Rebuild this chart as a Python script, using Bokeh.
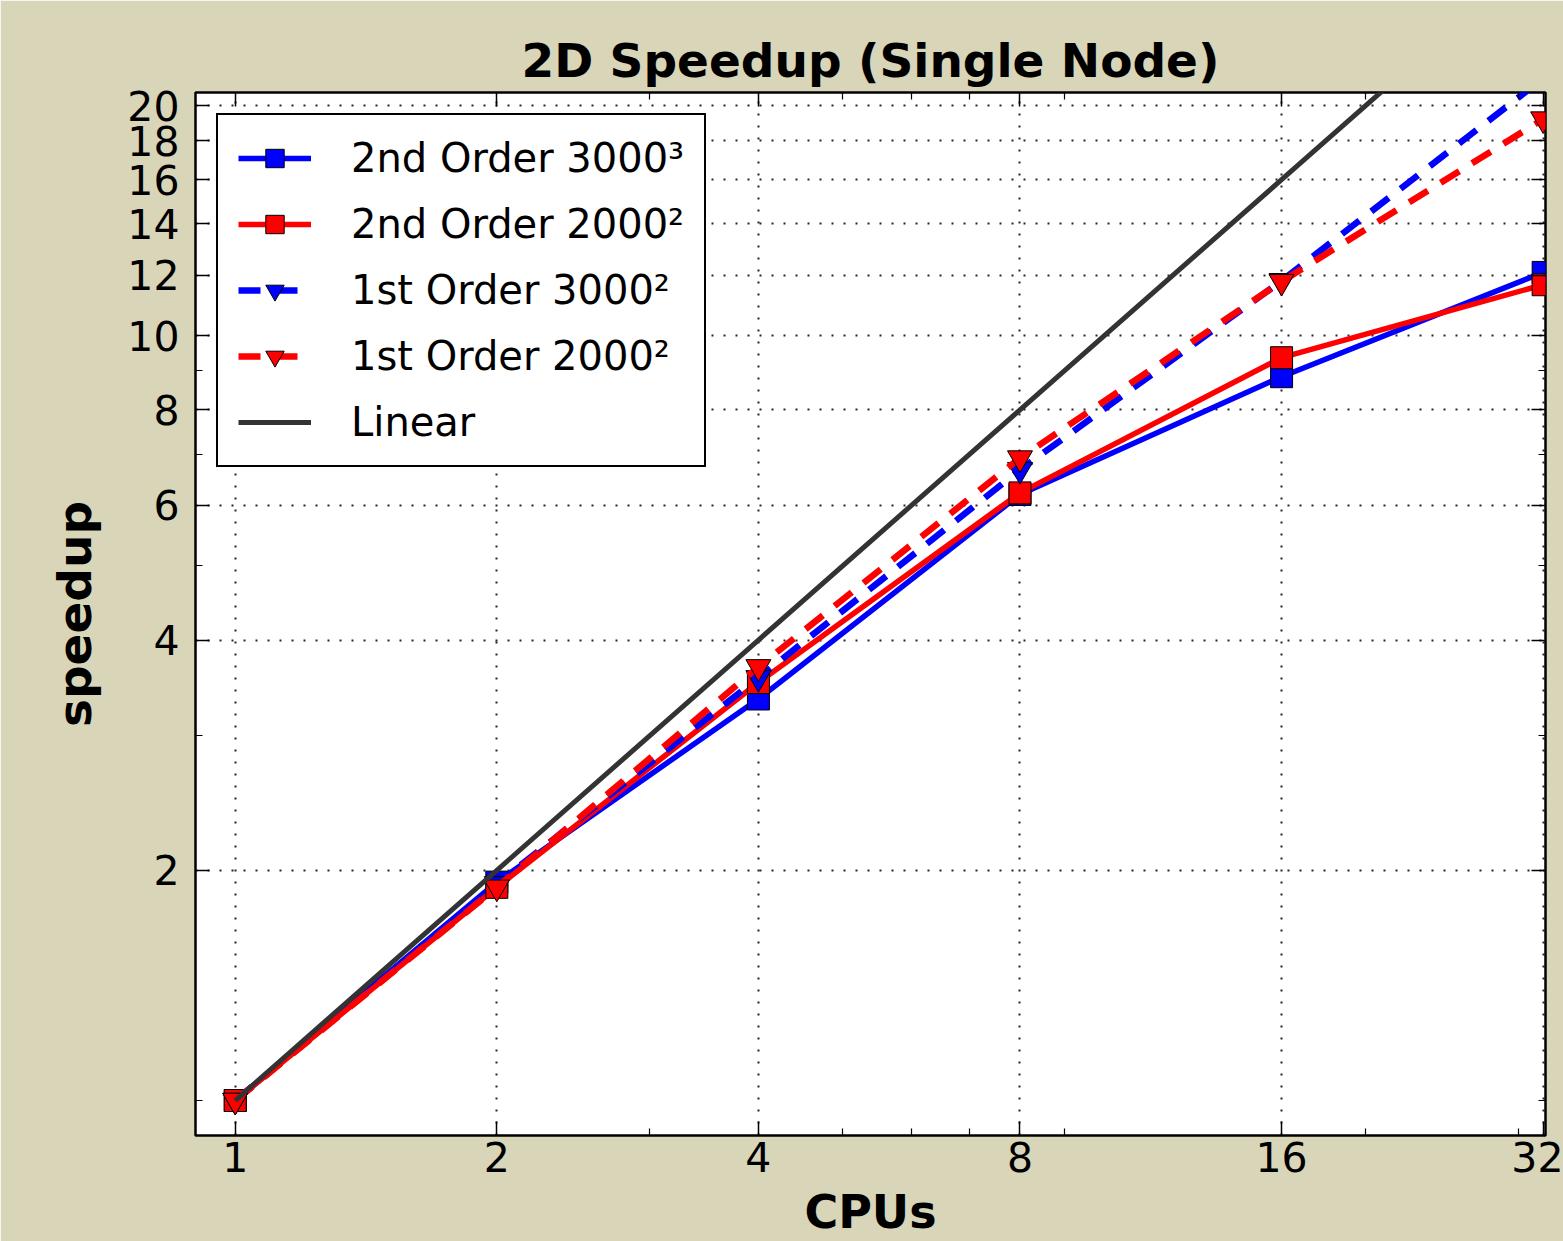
from bokeh.plotting import figure
from bokeh.models import (Range1d, FixedTicker, PrintfTickFormatter, LogAxis,
                          Legend, LegendItem)
from bokeh.embed import file_html
from bokeh.resources import INLINE

# ---------------- data ----------------
cpus = [1, 2, 4, 8, 16, 32]
second_order_3000 = [1.0, 1.93, 3.35, 6.20, 8.84, 12.1]
second_order_2000 = [1.0, 1.90, 3.52, 6.23, 9.36, 11.66]
first_order_3000 = [1.0, 1.92, 3.57, 6.68, 11.8, 21.7]
first_order_2000 = [1.0, 1.90, 3.69, 6.92, 11.77, 19.2]
linear = [1, 2, 4, 8, 16, 32]

labels = ["2nd Order 3000\u00b3", "2nd Order 2000\u00b2",
          "1st Order 3000\u00b2", "1st Order 2000\u00b2", "Linear"]

x_ticks = [1, 2, 4, 8, 16, 32]
x_minor = [3, 5, 6, 7, 9, 20, 30]
y_ticks = [2, 4, 6, 8, 10, 12, 14, 16, 18, 20]
y_minor = [1, 3, 5, 7, 9]

BG = "#d9d5b8"
FONT = "DejaVu Sans"

p = figure(width=1563, height=1241, x_axis_type="log", y_axis_type="log",
           x_range=Range1d(0.9, 32.2), y_range=Range1d(0.9, 20.8),
           output_backend="svg", toolbar_location=None,
           min_border_left=195, min_border_right=18,
           min_border_top=92, min_border_bottom=104)

p.background_fill_color = "white"
p.border_fill_color = BG
p.outline_line_color = "black"
p.outline_line_width = 2.5
p.outline_line_alpha = 1.0

p.title.text = "2D Speedup (Single Node)"
p.title.align = "center"
p.title.text_font = FONT
p.title.text_font_size = "47px"
p.title.text_font_style = "bold"
p.title.text_color = "black"

def style_axis(ax, ticks, minor, standoff, show=True):
    ax.ticker = FixedTicker(ticks=ticks, minor_ticks=minor)
    ax.formatter = PrintfTickFormatter(format="%d")
    ax.major_tick_in = 14
    ax.major_tick_out = 0
    ax.minor_tick_in = 7
    ax.minor_tick_out = 0
    ax.major_tick_line_color = "black"
    ax.minor_tick_line_color = "black"
    ax.major_tick_line_width = 1.5
    ax.minor_tick_line_width = 1.2
    ax.axis_line_color = None
    if show:
        ax.major_label_text_font = FONT
        ax.major_label_text_font_size = "41px"
        ax.major_label_text_color = "black"
        ax.major_label_standoff = standoff
    else:
        ax.major_label_text_font_size = "1px"
        ax.major_label_text_alpha = 0
        ax.major_label_standoff = 0

style_axis(p.xaxis[0], x_ticks, x_minor, 6)
style_axis(p.yaxis[0], y_ticks, y_minor, 16)

p.xaxis[0].axis_label = "CPUs"
p.xaxis[0].axis_label_text_font = FONT
p.xaxis[0].axis_label_text_font_size = "46px"
p.xaxis[0].axis_label_text_font_style = "bold"
p.xaxis[0].axis_label_text_color = "black"
p.xaxis[0].axis_label_standoff = 10

p.yaxis[0].axis_label = "speedup"
p.yaxis[0].axis_label_text_font = FONT
p.yaxis[0].axis_label_text_font_size = "47px"
p.yaxis[0].axis_label_text_font_style = "bold"
p.yaxis[0].axis_label_text_color = "black"
p.yaxis[0].axis_label_standoff = 22

top_ax = LogAxis()
right_ax = LogAxis()
style_axis(top_ax, x_ticks, x_minor, 0, show=False)
style_axis(right_ax, y_ticks, y_minor, 0, show=False)
p.add_layout(top_ax, "above")
p.add_layout(right_ax, "right")

for g in (p.xgrid[0], p.ygrid[0]):
    g.grid_line_color = "black"
    g.grid_line_alpha = 0.85
    g.grid_line_width = 2
    g.grid_line_dash = "2 10"

# ---------------- series ----------------
BLUE = "#0000ff"
RED = "#ff0000"

l1 = p.line(cpus, second_order_3000, line_color=BLUE, line_width=5.5)
m1 = p.scatter(cpus, second_order_3000, marker="square", size=22,
               fill_color=BLUE, line_color="black", line_width=1)
l2 = p.line(cpus, second_order_2000, line_color=RED, line_width=5.5)
m2 = p.scatter(cpus, second_order_2000, marker="square", size=22,
               fill_color=RED, line_color="black", line_width=1)
l3 = p.line(cpus, first_order_3000, line_color=BLUE, line_width=6.5,
            line_dash="22 15")
m3 = p.scatter(cpus, first_order_3000, marker="inverted_triangle", size=25,
               fill_color=BLUE, line_color="black", line_width=1)
l4 = p.line(cpus, first_order_2000, line_color=RED, line_width=6.5,
            line_dash="22 15")
m4 = p.scatter(cpus, first_order_2000, marker="inverted_triangle", size=25,
               fill_color=RED, line_color="black", line_width=1)
l5 = p.line(cpus, linear, line_color="#333333", line_width=5)

legend = Legend(items=[
    LegendItem(label=labels[0], renderers=[l1, m1]),
    LegendItem(label=labels[1], renderers=[l2, m2]),
    LegendItem(label=labels[2], renderers=[l3, m3]),
    LegendItem(label=labels[3], renderers=[l4, m4]),
    LegendItem(label=labels[4], renderers=[l5]),
], location="top_left")
legend.margin = 21
legend.padding = 20
legend.spacing = 20
legend.glyph_width = 73
legend.glyph_height = 46
legend.label_height = 46
legend.label_standoff = 40
legend.label_text_font = FONT
legend.label_text_font_size = "40px"
legend.label_text_color = "black"
legend.border_line_color = "black"
legend.border_line_width = 2.5
legend.border_line_alpha = 1.0
legend.background_fill_color = "white"
legend.background_fill_alpha = 1.0
p.add_layout(legend)

open("out.html", "w").write(file_html(p, INLINE))
